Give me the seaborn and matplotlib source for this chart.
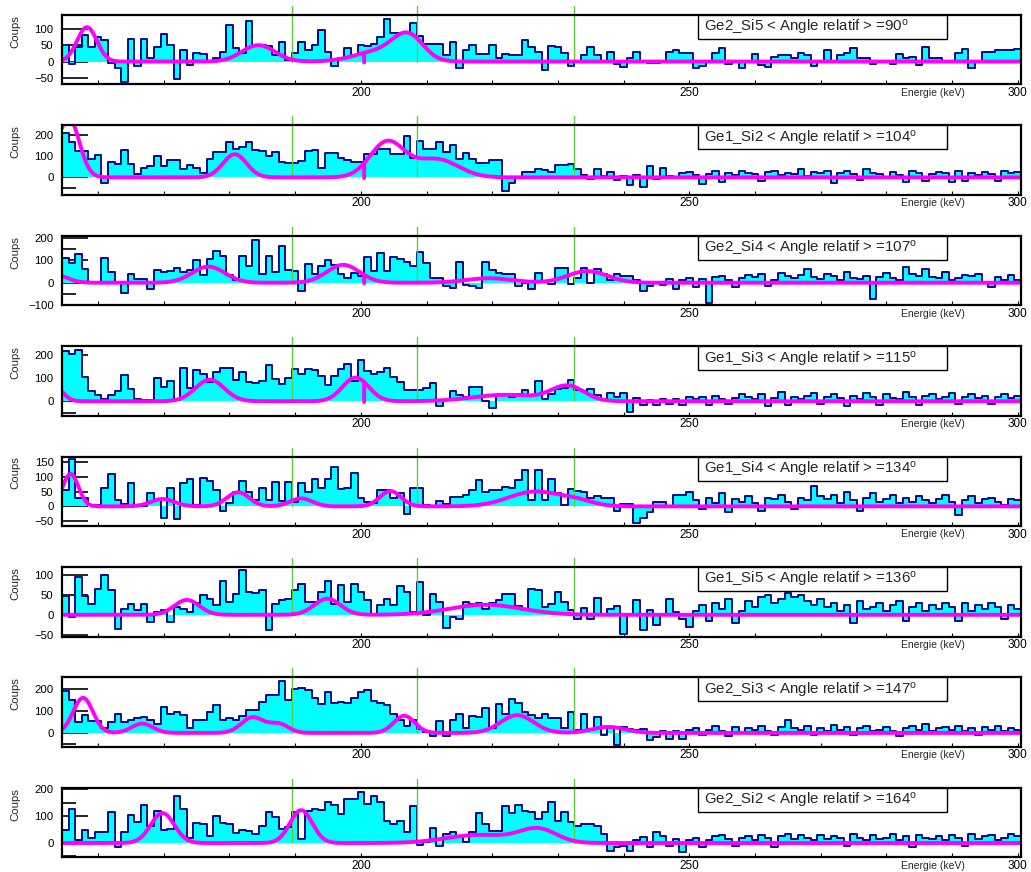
import numpy as np
import pandas as pd
import matplotlib
matplotlib.use("Agg")
import matplotlib.pyplot as plt
import seaborn as sns
from matplotlib.patches import Rectangle
from matplotlib.ticker import FixedLocator

sns.set_style("white")
plt.rcParams['font.family'] = ['Liberation Sans', 'DejaVu Sans']
plt.rcParams['mathtext.default'] = 'regular'

# ---------------- data ----------------
energy = np.arange(155, 301)              # bin centres (keV), 1 keV bins
edges = np.arange(154.5, 301.0, 1.0)      # bin edges
green_lines = [189.5, 208.6, 232.4]

titles = ["Ge2_Si5", "Ge1_Si2", "Ge2_Si4", "Ge1_Si3",
          "Ge1_Si4", "Ge1_Si5", "Ge2_Si3", "Ge2_Si2"]
angles = [90, 104, 107, 115, 134, 136, 147, 164]

counts_ge2_si5 = [50, -8, 45, 80, 45,
                  75, 65, -5, -20, -62, 70, -15, 70, 10, 45,
                  85, 50, -52, 35, -10, 27, 22, 0, 10, 30,
                  110, 42, 25, 125, 50, 50, 48, 20, 60, 5,
                  25, 60, 35, 50, 95, 30, -15, 12, 40, 20,
                  50, 47, 55, 75, 130, 88, 88, 90, 118, 77,
                  53, 53, 53, 20, 60, -20, 35, 50, 22, 22,
                  50, 10, 22, 20, 20, 65, 43, 30, -25, 47,
                  43, 25, -15, 0, 20, 44, 20, 0, 28, -8,
                  -17, 10, 28, 0, -5, -5, 0, 30, 35, 25,
                  25, -20, -15, 0, 25, 40, -8, 0, -20, 0,
                  22, -10, -18, 15, 20, 20, 12, 25, 20, -15,
                  0, 35, 0, 20, 25, 40, 12, 10, -8, 0,
                  0, -8, 22, 10, 15, -10, 45, 10, 10, 0,
                  0, 25, 38, -20, 0, 30, 30, 35, 35, 35, 38]

counts_ge1_si2 = [208, 165, 123, 123, 88,
                  103, -26, 72, 62, 128, 62, 15, 42, 51, 100,
                  54, 82, 82, 38, 58, 42, 20, 88, 118, 118,
                  165, 134, 143, 165, 128, 123, 100, 118, 74, 66,
                  66, 77, 123, 126, 45, 115, 115, 92, 82, 72,
                  72, 108, 108, 134, 134, 108, 108, 195, 92, 170,
                  134, 134, 165, 118, 150, 85, 115, 88, 69, 69,
                  82, 82, -66, -26, 0, 26, 26, 38, 34, 26,
                  57, 57, 62, 38, 12, -8, 38, 8, 23, -11,
                  8, -38, 11, -46, 51, -8, 46, 8, 0, 20,
                  25, 10, -30, 15, 30, -20, 20, 10, 30, 20,
                  15, -15, 25, 30, 10, 20, 15, 40, 5, 25,
                  20, 30, -25, 20, 30, 15, -10, 40, 20, 15,
                  0, 25, 10, -20, 30, 20, -15, 15, 25, 20,
                  -20, 30, -15, 20, 10, 25, 15, -15, 30, 20, 25]

counts_ge2_si4 = [111, 89, 129, 62, 0,
                  5, 111, 49, 0, -44, 37, 18, 18, -27, 56,
                  47, 52, 64, 49, 59, 100, 33, 107, 141, 118,
                  33, 10, 118, 77, 193, 37, 118, 47, 166, 59,
                  52, -37, 86, 37, 74, 100, 81, 40, 22, 44,
                  30, 115, 52, 133, 52, 115, 104, 92, 74, 138,
                  89, 22, 22, -15, -22, 92, -10, -15, -22, 93,
                  59, 44, 37, 37, -15, 0, -27, 44, 7, -7,
                  64, 64, -7, 22, 67, 0, 62, 37, 10, 40,
                  30, 30, 10, -37, -15, 0, -10, 15, -30, 10,
                  20, -20, 15, -90, 25, 30, 10, -20, 20, 35,
                  25, 40, -15, 10, 45, 30, 20, 35, 60, 25,
                  15, 40, 30, 10, 50, 20, 15, 30, -75, 25,
                  45, 20, 10, 70, 40, 30, 60, 25, 20, 50,
                  10, 20, 35, 30, 40, 0, -20, 25, 10, 35, 10]

counts_ge1_si3 = [218, 207, 223, 104, 43,
                  26, 11, 26, 43, 114, 54, 11, 5, 5, 100,
                  61, 90, 5, 143, 57, 137, 119, 83, 129, 143,
                  147, 94, 126, 86, 80, 90, 160, 97, 76, 100,
                  140, 119, 140, 137, 111, 71, 111, 140, 164, 90,
                  179, 133, 119, 126, 147, 104, 83, 51, 51, 47,
                  57, 80, -20, 7, 43, 29, 19, 61, 64, 0,
                  -29, 26, 33, 19, 33, 51, 29, 90, 9, 33,
                  54, 57, 94, 51, 43, 54, 26, 9, 36, 19,
                  37, -49, 14, -17, 4, -17, 11, -14, 9, -17,
                  19, 10, 20, -15, 25, 10, -10, 15, 30, 20,
                  10, 30, -20, 15, 40, -15, 20, 10, 25, 35,
                  -10, 20, 30, 15, -20, 25, 10, 35, 20, -15,
                  30, 15, 10, 40, 20, -15, 25, 30, 10, 20,
                  35, -10, 20, 30, 15, 25, -10, 20, 30, 15, 25]

counts_ge1_si4 = [55, 160, 27, 27, 5,
                  5, 64, 109, 22, 9, 81, 5, 0, 47, 22,
                  -41, 64, -44, 81, 93, 5, 95, 86, 56, -16,
                  10, 50, 86, 48, 20, 61, 20, 84, 18, 84,
                  16, 81, 50, 93, 64, 93, 132, 59, 61, 115,
                  27, 14, 10, 56, 56, 30, 44, -27, 61, 61,
                  5, 0, 18, 9, 33, 33, 39, 56, 90, 50,
                  56, 56, 67, 61, 90, 124, 22, 124, 22, 93,
                  44, 5, 59, 52, 48, 30, 36, 30, 30, -16,
                  9, 9, -55, -39, -20, 16, 16, 0, 39, 39,
                  50, 20, -10, 30, 10, 45, -20, 25, 15, 35,
                  10, -15, 30, 25, 40, 15, -10, 30, 20, 70,
                  35, 25, 40, 10, 50, 20, -15, 30, 45, 15,
                  25, 40, 10, 30, 15, 35, 20, 10, 25, 40,
                  15, -30, 20, 35, 10, 25, 30, 15, 5, 25, 20]

counts_ge1_si5 = [46, -6, 94, 48, 27,
                  63, 98, 61, -35, 15, 27, 11, 27, -18, 7,
                  11, -17, 19, 15, 7, 30, 50, 40, 25, 84,
                  33, 52, 111, 58, 55, 61, -37, 27, 38, 40,
                  61, 77, 32, 33, 58, 83, 27, 73, 32, 77,
                  57, 36, 1, 25, 40, 25, 72, 57, 7, 82,
                  0, 51, 32, -33, -6, -10, 32, 27, 29, 15,
                  30, 36, 52, 52, 22, 11, 65, 61, 19, 27,
                  58, 32, 11, -10, 17, -10, 42, 0, 15, 22,
                  -48, 0, 38, -39, 11, -25, 0, 40, 8, -10,
                  -31, 10, 25, -15, 30, 15, 40, -20, 10, 35,
                  20, 45, 50, 30, 40, 55, 45, 50, 35, 25,
                  40, 20, 30, 10, 25, -20, 35, 15, 20, 30,
                  10, 25, 35, -15, 20, 30, 10, 25, 15, 30,
                  20, -15, 30, 10, 25, 15, 30, 20, -10, 25, 15]

counts_ge2_si3 = [188, 147, 50, 80, 53,
                  53, 23, 50, 87, 50, 57, 68, 72, 57, 42,
                  117, 87, 92, 80, 20, 57, 57, 95, 125, 57,
                  68, 60, 77, 102, 102, 140, 170, 170, 233, 147,
                  200, 203, 192, 158, 128, 185, 135, 140, 135, 155,
                  185, 192, 143, 135, 125, 83, 57, 32, 57, 17,
                  5, -14, 54, -14, 57, 87, 20, 77, 72, 110,
                  20, 132, 87, 152, 135, 92, 80, 65, 87, 68,
                  65, 20, 92, 12, 87, 12, 72, -11, 23, -56,
                  27, 17, 12, 17, -33, -18, 8, -26, 8, -26,
                  12, 20, -10, 15, 30, 10, -15, 25, 5, 20,
                  15, 30, 10, -10, 25, 60, 20, 15, 30, -10,
                  20, 10, 35, 15, 25, -10, 20, 30, 10, 15,
                  25, 10, -15, 20, 30, 15, 40, 10, 20, 25,
                  15, 30, 10, 20, -10, 25, 15, 30, 10, 20, 15]

counts_ge2_si2 = [49, 126, 12, 49, 17,
                  40, 40, 116, -16, 42, 105, 79, 141, 64, 120,
                  50, 52, 173, 128, 17, 74, 70, 27, 99, 74,
                  70, 36, 49, 46, 33, 62, 116, 95, 52, 58,
                  116, 15, 120, 128, 123, 153, 141, 107, 163, 163,
                  190, 144, 175, 153, 83, 70, 83, 40, 136, -7,
                  2, 54, -12, 33, 40, 27, 5, 40, 111, 70,
                  46, 46, 138, 111, 141, 120, 114, 89, 114, 153,
                  83, 116, 79, 62, 70, 70, 62, 33, -28, -16,
                  -10, -28, 12, 21, -16, 42, 27, -10, 15, -32,
                  12, 20, -15, 10, 25, 30, 15, -10, 20, 25,
                  10, 30, 20, -15, 25, 35, 15, 30, 20, 10,
                  30, 15, 25, 20, -10, 35, 20, 10, 30, 15,
                  20, 35, 10, 25, -15, 30, 20, 15, 25, 10,
                  30, 20, -10, 35, 15, 25, 30, 10, 20, 35, 25]

# fitted gaussian components (centre keV, amplitude, sigma keV)
fit_ge2_si5 = [(158.3, 105, 1.5), (184.4, 50, 2.5), (202.5, 30, 3.5), (207.2, 76, 2.3)]
fit_ge1_si2 = [(155.5, 280, 1.6), (180.8, 108, 1.8), (204.0, 165, 2.6), (211.5, 85, 3.3)]
fit_ge2_si4 = [(153.5, 35, 1.8), (176.8, 72, 2.5), (197.3, 80, 2.5), (219.5, 20, 3.5), (234.5, 52, 3.0)]
fit_ge1_si3 = [(153.5, 60, 1.2), (177.0, 94, 2.2), (199.2, 103, 2.0), (222.0, 28, 5.0), (231.5, 65, 2.5)]
fit_ge1_si4 = [(155.8, 110, 1.2), (169.8, 25, 1.8), (181.3, 48, 1.7), (190.9, 27, 1.7),
               (204.5, 52, 1.6), (226.5, 50, 4.0), (233.0, 15, 2.5)]
fit_ge1_si5 = [(173.5, 37, 1.9), (194.9, 40, 2.0), (219.0, 25, 5.5)]
fit_ge2_si3 = [(157.7, 158, 1.5), (166.7, 42, 1.6), (183.5, 70, 1.7), (187.5, 40, 1.5),
               (206.6, 77, 1.6), (223.8, 80, 2.5), (237.7, 27, 2.5)]
fit_ge2_si2 = [(169.8, 111, 1.8), (190.9, 122, 1.7), (218.0, 30, 5.0), (227.0, 50, 2.8)]

all_counts = [counts_ge2_si5, counts_ge1_si2, counts_ge2_si4, counts_ge1_si3,
              counts_ge1_si4, counts_ge1_si5, counts_ge2_si3, counts_ge2_si2]
all_fits = [fit_ge2_si5, fit_ge1_si2, fit_ge2_si4, fit_ge1_si3,
            fit_ge1_si4, fit_ge1_si5, fit_ge2_si3, fit_ge2_si2]
fit_break = [True, True, True, True, False, False, False, False]

ylims = [(-70, 142), (-82, 243), (-101, 210), (-63, 240),
         (-67, 169), (-54, 119), (-63, 250), (-53, 205)]
ymajor = [[-50, 0, 50, 100], [0, 100, 200], [-100, 0, 100, 200], [0, 100, 200],
          [-50, 0, 50, 100, 150], [-50, 0, 50, 100], [0, 100, 200], [0, 100, 200]]
yminor = [[], [-50, 50, 150], [-50, 50, 150], [-50, 50, 150],
          [], [], [-50, 50, 150], [-50, 50, 150]]

# ---------------- figure ----------------
W, H = 1031, 872
fig = plt.figure(figsize=(W / 100, H / 100), dpi=100)

x_fit = np.linspace(154.5, 300.5, 2921)

for i in range(8):
    counts = np.array(all_counts[i], dtype=float)
    top = 15 + 110.4 * i
    ax = fig.add_axes([62 / W, 1 - (top + 69.5) / H, 959 / W, 69.5 / H])

    df = pd.DataFrame({"energy": energy.astype(float), "counts": counts})
    sns.histplot(data=df, x="energy", weights="counts", bins=146,
                 binrange=(154.5, 300.5),
                 element="step", fill=True, color="#00ffff", alpha=1.0,
                 linewidth=0, ax=ax, zorder=1)
    sns.lineplot(x=edges, y=np.append(counts, counts[-1]), drawstyle="steps-post",
                 color="#0a0a8c", linewidth=1.4, estimator=None, sort=False,
                 ax=ax, zorder=2)

    ylo, yhi = ylims[i]
    ext = yhi + (yhi - ylo) * 9 / 69.5
    for g in green_lines:
        ax.plot([g, g], [0, ext], color="#5ccf3c", lw=1.0, clip_on=False, zorder=3)

    y_fit = np.zeros_like(x_fit)
    for c, a, s in all_fits[i]:
        y_fit += a * np.exp(-0.5 * ((x_fit - c) / s) ** 2)
    if fit_break[i]:
        m = x_fit <= 200.5
        xa = np.append(x_fit[m], 200.5)
        ya = np.append(y_fit[m], -3)
        sns.lineplot(x=xa, y=ya, color="#ff00ff", linewidth=2.8, estimator=None,
                     sort=False, ax=ax, zorder=4)
        sns.lineplot(x=x_fit[~m], y=y_fit[~m], color="#ff00ff", linewidth=2.8,
                     estimator=None, sort=False, ax=ax, zorder=4)
    else:
        sns.lineplot(x=x_fit, y=y_fit, color="#ff00ff", linewidth=2.8,
                     estimator=None, sort=False, ax=ax, zorder=4)

    ax.set_xlim(154.5, 300.5)
    ax.set_ylim(ylo, yhi)
    ax.set_xlabel("")
    ax.set_ylabel("")

    ax.xaxis.set_major_locator(FixedLocator([200, 250, 300]))
    ax.xaxis.set_minor_locator(FixedLocator([160, 170, 180, 190, 210, 220, 230, 240,
                                             260, 270, 280, 290]))
    ax.tick_params(axis="x", which="both", direction="in", length=3, width=0.8,
                   labelsize=8.5, pad=1.8, bottom=True, top=False, colors="black")
    ax.yaxis.set_major_locator(FixedLocator(ymajor[i]))
    ax.yaxis.set_minor_locator(FixedLocator(yminor[i]))
    ax.tick_params(axis="y", which="major", direction="in", length=19, width=1.2,
                   labelsize=8.2, pad=6, left=True, right=False, colors="black")
    ax.tick_params(axis="y", which="minor", direction="in", length=10, width=1.2,
                   left=True, right=False, colors="black")
    for sp in ax.spines.values():
        sp.set_linewidth(1.6)
        sp.set_color("black")
        sp.set_zorder(6)

    ax.text(-0.049, 1.0, "Coups", rotation=90, transform=ax.transAxes,
            fontsize=8.2, ha="center", va="top")
    ax.text(0.9416, -0.12, "Energie (keV)", transform=ax.transAxes,
            fontsize=7.5, ha="right", va="center")

    ax.add_patch(Rectangle((0.663, 0.655), 0.26, 0.345, transform=ax.transAxes,
                           facecolor="white", edgecolor="black", lw=1.0,
                           zorder=7, clip_on=False))
    label = f"{titles[i]} < Angle relatif > ={angles[i]}$^{{o}}$"
    ax.text(0.6695, 0.815, label, transform=ax.transAxes, fontsize=10.8,
            ha="left", va="center", zorder=8)

fig.savefig("out.png", dpi=100)
